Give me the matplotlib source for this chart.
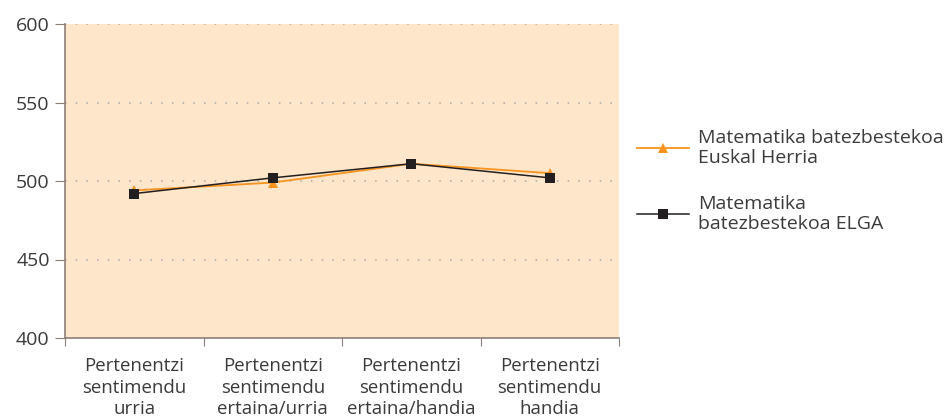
import matplotlib
matplotlib.use("Agg")
import matplotlib.pyplot as plt
from matplotlib.lines import Line2D

plt.rcParams['font.family'] = ['Open Sans', 'DejaVu Sans']

categories = [
    "Pertenentzi\nsentimendu\nurria",
    "Pertenentzi\nsentimendu\nertaina/urria",
    "Pertenentzi\nsentimendu\nertaina/handia",
    "Pertenentzi\nsentimendu\nhandia",
]
euskal_herria = [494, 499, 511, 505]
elga = [492, 502, 511, 502]
series_labels = ["Matematika batezbestekoa\nEuskal Herria", "Matematika\nbatezbestekoa ELGA"]
y_ticks = [400, 450, 500, 550, 600]

text_color = "#3a3a3a"
spine_color = "#8c7f78"

fig = plt.figure(figsize=(9.44, 4.18), dpi=100)
ax = fig.add_axes([65 / 944, 80 / 418, (619 - 65) / 944, (338 - 24) / 418])
ax.set_facecolor("#fde6c9")

x = list(range(len(categories)))
ax.plot(x, euskal_herria, color="#f7931e", lw=1.3, marker="^", ms=7.5,
        markeredgewidth=0, zorder=3)
ax.plot(x, elga, color="#231f20", lw=1.1, marker="s", ms=6.5,
        markeredgewidth=0, zorder=4)

ax.set_xlim(-0.5, len(categories) - 0.5)
ax.set_ylim(400, 600)
ax.set_yticks(y_ticks)
ax.set_yticklabels([str(v) for v in y_ticks], fontsize=14, color=text_color)
ax.yaxis.grid(True, linestyle=(0, (1, 6)), color="#a8a8a8", lw=1.1)
ax.set_axisbelow(True)

ax.set_xticks([i - 0.5 for i in range(len(categories) + 1)])
ax.set_xticklabels([])
ax.set_xticks(x, minor=True)
ax.set_xticklabels(categories, minor=True, fontsize=13.4, color=text_color,
                   linespacing=1.24)
ax.tick_params(axis="x", which="minor", length=0, pad=14)
ax.tick_params(axis="x", which="major", length=6, color=spine_color)
ax.tick_params(axis="y", length=7, color=spine_color, pad=4)

for s in ["top", "right"]:
    ax.spines[s].set_visible(False)
for s in ["left", "bottom"]:
    ax.spines[s].set_color(spine_color)
    ax.spines[s].set_linewidth(1.2)

handles = [
    Line2D([], [], color="#f7931e", lw=1.3, marker="^", ms=7.5, markeredgewidth=0),
    Line2D([], [], color="#231f20", lw=1.1, marker="s", ms=6.5, markeredgewidth=0),
]
fig.legend(handles, series_labels, loc="center left",
           bbox_to_anchor=(619 / 944, 1 - 181 / 418), frameon=False,
           fontsize=14, labelcolor=text_color, handlelength=2.7,
           handletextpad=0.45, labelspacing=1.4)

fig.savefig("out.png", dpi=100, facecolor="white")
